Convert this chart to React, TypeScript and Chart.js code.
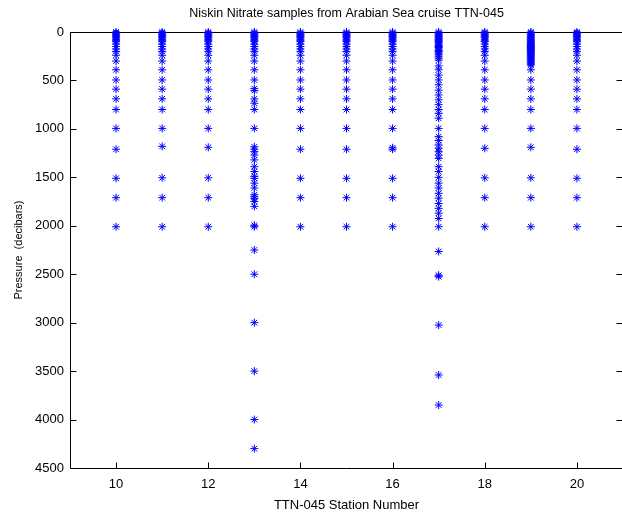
import React, { useEffect, useRef } from "react";
import { Chart, registerables } from "chart.js";

Chart.register(...registerables);

const stations = [10, 11, 12, 13, 14, 15, 16, 17, 18, 19, 20];

const st10 = [0, 10, 20, 30, 40, 50, 60, 75, 90, 100, 125, 150, 175, 200, 240, 300, 390, 495, 590, 690, 800, 995, 1210, 1510, 1710, 2010];
const st11 = [0, 10, 20, 30, 40, 50, 60, 75, 90, 100, 125, 150, 175, 200, 240, 300, 390, 495, 590, 690, 800, 995, 1180, 1505, 1710, 2010];
const st12 = [0, 10, 20, 30, 40, 50, 60, 75, 90, 100, 125, 150, 175, 200, 240, 300, 390, 495, 590, 690, 800, 995, 1190, 1505, 1710, 2010];
const st13 = [0, 10, 20, 30, 40, 50, 60, 75, 90, 100, 125, 150, 175, 200, 240, 300, 390, 495, 585, 605, 690, 735, 800, 995, 1185, 1210, 1235, 1270, 1320, 1390, 1440, 1490, 1510, 1560, 1610, 1680, 1700, 1720, 1750, 1800, 1995, 2010, 2250, 2500, 3000, 3500, 4000, 4300];
const st14 = [0, 10, 20, 30, 40, 50, 60, 75, 90, 100, 125, 150, 175, 200, 240, 300, 390, 495, 590, 690, 800, 995, 1210, 1510, 1710, 2010];
const st15 = [0, 10, 20, 30, 40, 50, 60, 75, 90, 100, 125, 150, 175, 200, 240, 300, 390, 495, 590, 690, 800, 995, 1210, 1510, 1710, 2010];
const st16 = [0, 10, 20, 30, 40, 50, 60, 75, 90, 100, 125, 150, 175, 200, 240, 300, 390, 495, 590, 690, 800, 995, 1195, 1210, 1510, 1710, 2010];
const st17 = [0, 10, 20, 30, 40, 50, 60, 70, 80, 90, 100, 110, 125, 140, 150, 160, 175, 190, 200, 215, 230, 250, 270, 290, 350, 390, 445, 495, 545, 600, 650, 700, 750, 800, 840, 890, 995, 1080, 1120, 1165, 1200, 1235, 1270, 1305, 1390, 1440, 1500, 1560, 1610, 1665, 1715, 1770, 1820, 1870, 1925, 2010, 2265, 2510, 2525, 3025, 3540, 3850];
const st18 = [0, 10, 20, 30, 40, 50, 60, 75, 90, 100, 125, 150, 175, 200, 240, 300, 390, 495, 590, 690, 800, 995, 1200, 1505, 1710, 2010];
const st19 = [0, 10, 20, 30, 40, 50, 60, 70, 80, 90, 100, 110, 120, 130, 140, 150, 160, 170, 180, 190, 200, 210, 220, 230, 240, 250, 260, 270, 280, 290, 300, 310, 320, 330, 340, 390, 495, 590, 690, 800, 995, 1190, 1505, 1710, 2010];
const st20 = [0, 10, 20, 30, 40, 50, 60, 75, 90, 100, 125, 150, 175, 200, 240, 300, 390, 495, 590, 690, 800, 995, 1210, 1510, 1710, 2010];

const pressures = [st10, st11, st12, st13, st14, st15, st16, st17, st18, st19, st20];

const xTicks = [10, 12, 14, 16, 18, 20];
const yTicks = [0, 500, 1000, 1500, 2000, 2500, 3000, 3500, 4000, 4500];

const titleText = "Niskin Nitrate samples from Arabian Sea cruise TTN-045";
const xLabel = "TTN-045 Station Number";
const yLabel = "Pressure  (decibars)";

const FONT = "'Liberation Sans', Arial, Helvetica, sans-serif";

const boxPlugin = {
  id: "matlabBox",
  beforeDatasetsDraw(chart: any) {
    const { ctx, chartArea: a, scales } = chart;
    const xs = scales.x;
    const ys = scales.y;
    const L = Math.round(a.left) + 0.5;
    const T = Math.round(a.top) + 0.5;
    const B = Math.round(a.bottom) + 0.5;
    const R = Math.round(a.right) - 0.5;
    const tl = 6;
    ctx.save();
    ctx.strokeStyle = "#000";
    ctx.lineWidth = 1;
    ctx.beginPath();
    ctx.moveTo(L, B);
    ctx.lineTo(L, T);
    ctx.lineTo(R, T);
    ctx.lineTo(R, B);
    ctx.lineTo(L, B);
    xTicks.forEach((v) => {
      const px = Math.round(xs.getPixelForValue(v)) + 0.5;
      ctx.moveTo(px, B);
      ctx.lineTo(px, B - tl);
      ctx.moveTo(px, T);
      ctx.lineTo(px, T + tl);
    });
    yTicks.forEach((v) => {
      const py = Math.round(ys.getPixelForValue(v)) + 0.5;
      ctx.moveTo(L, py);
      ctx.lineTo(L + tl, py);
      ctx.moveTo(R, py);
      ctx.lineTo(R - tl, py);
    });
    ctx.stroke();
    ctx.restore();
  },
};

export default function App() {
  const ref = useRef<HTMLCanvasElement | null>(null);

  useEffect(() => {
    document.body.style.margin = "0";
    const canvas = ref.current;
    if (!canvas) return;
    const points: { x: number; y: number }[] = [];
    stations.forEach((s, i) => {
      pressures[i].forEach((p) => points.push({ x: s, y: p }));
    });
    const chart = new Chart(canvas, {
      type: "scatter",
      data: {
        datasets: [
          {
            data: points,
            pointStyle: "star",
            pointRadius: 4,
            pointBorderWidth: 1,
            borderColor: "#0000ff",
            backgroundColor: "#0000ff",
            clip: false,
          } as any,
        ],
      },
      options: {
        responsive: false,
        animation: false,
        devicePixelRatio: 1,
        layout: { padding: 0, autoPadding: false },
        plugins: {
          legend: { display: false },
          tooltip: { enabled: false },
          title: {
            display: true,
            text: titleText,
            color: "#000",
            fullSize: false,
            font: { family: FONT, size: 12.5, weight: "normal" },
            padding: { top: 6, bottom: 11 },
          },
        },
        scales: {
          x: {
            type: "linear",
            min: 9,
            max: 21,
            afterBuildTicks: (s: any) => {
              s.ticks = xTicks.map((v) => ({ value: v }));
            },
            afterFit: (s: any) => {
              s.height = 49;
              s.paddingLeft = 0;
              s.paddingRight = 0;
            },
            grid: { display: false, drawTicks: false },
            border: { display: false },
            ticks: {
              color: "#000",
              font: { family: FONT, size: 13 },
              padding: 9,
              maxRotation: 0,
              autoSkip: false,
              callback: (v: any) => String(v),
            },
            title: {
              display: true,
              text: xLabel,
              color: "#000",
              font: { family: FONT, size: 13 },
              padding: { top: 0, bottom: 4 },
            },
          },
          y: {
            type: "linear",
            reverse: true,
            min: 0,
            max: 4500,
            afterBuildTicks: (s: any) => {
              s.ticks = yTicks.map((v) => ({ value: v }));
            },
            afterFit: (s: any) => {
              s.width = 70;
              s.paddingTop = 0;
              s.paddingBottom = 0;
            },
            grid: { display: false, drawTicks: false },
            border: { display: false },
            ticks: {
              color: "#000",
              font: { family: FONT, size: 13 },
              padding: 6,
              autoSkip: false,
              callback: (v: any) => String(v),
            },
            title: {
              display: true,
              text: yLabel,
              color: "#000",
              font: { family: FONT, size: 11 },
              padding: { top: 12, bottom: 0 },
            },
          },
        },
      } as any,
      plugins: [boxPlugin],
    });
    return () => chart.destroy();
  }, []);

  return (
    <div style={{ width: 622, height: 517, overflow: "hidden", background: "#fff" }}>
      <canvas ref={ref} width={623} height={517} style={{ display: "block" }} />
    </div>
  );
}
